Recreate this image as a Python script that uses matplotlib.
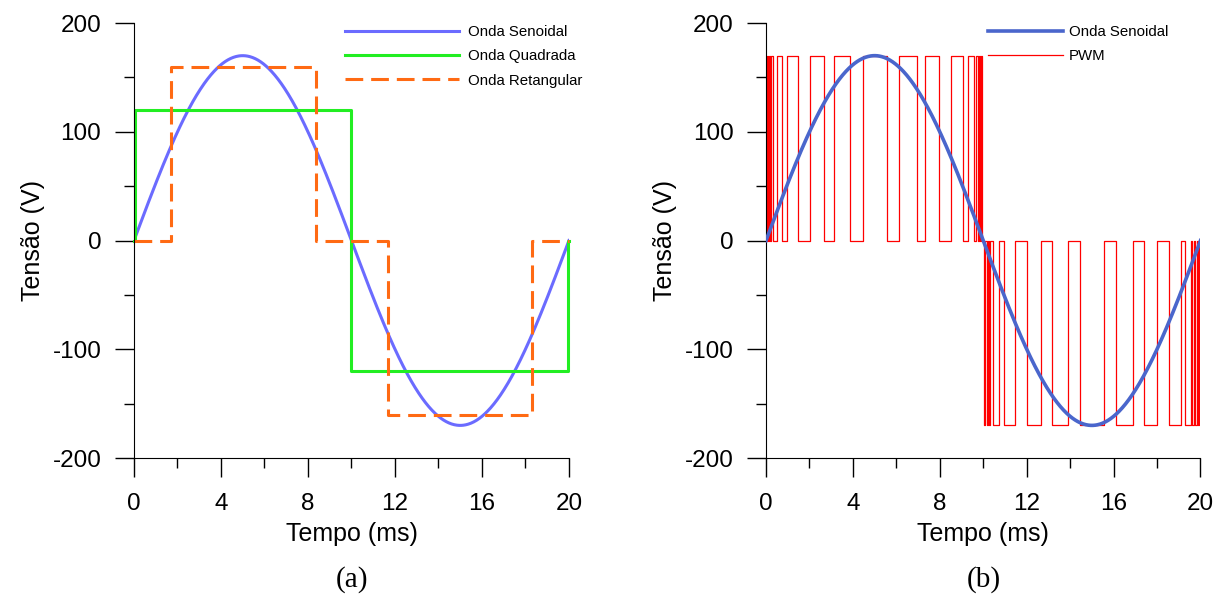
"""
Formas de onda: senoidal, quadrada, retangular e PWM (meio ciclo positivo
e meio ciclo negativo), periodo de 20 ms.
"""

import numpy as np
import matplotlib.pyplot as plt
from matplotlib.ticker import MultipleLocator

plt.rcParams["font.family"] = ["Liberation Sans", "DejaVu Sans"]
plt.rcParams["axes.unicode_minus"] = False

# --- dados -------------------------------------------------------------------
periodo_ms = 20.0
vpico_seno = 170.0

# onda quadrada: instantes de transicao e niveis
quad_t = [0.0, 0.05, 0.05, 10.0, 10.0, 19.95, 19.95, 20.0]
quad_v = [0, 0, 120, 120, -120, -120, 0, 0]

# onda retangular (tracejada)
ret_t = [0.0, 1.7, 1.7, 8.35, 8.35, 11.7, 11.7, 18.3, 18.3, 20.0]
ret_v = [0, 0, 160, 160, 0, 0, -160, -160, 0, 0]

# PWM: intervalos em que a saida esta ligada (ms)
pwm_nivel = 170.0
pwm_pos_liga = [0.04, 0.13, 0.22, 0.49, 0.98, 2.03, 3.15, 4.45, 6.14, 7.32,
                8.52, 9.29, 9.66, 9.80, 9.90]
pwm_pos_desl = [0.08, 0.18, 0.33, 0.72, 1.49, 2.65, 3.88, 5.56, 6.94, 7.98,
                9.06, 9.59, 9.75, 9.86, 9.95]
pwm_neg_liga = [10.05, 10.15, 10.25, 10.47, 10.97, 12.03, 13.15, 14.46, 16.12,
                17.40, 18.53, 19.29, 19.62, 19.76, 19.88]
pwm_neg_desl = [10.10, 10.20, 10.31, 10.73, 11.48, 12.65, 13.92, 15.57, 16.90,
                18.02, 19.08, 19.57, 19.70, 19.83, 19.94]

# --- curvas ------------------------------------------------------------------
t = np.linspace(0, periodo_ms, 801)
seno = vpico_seno * np.sin(2 * np.pi * t / periodo_ms)

pwm_t = [0.0]
pwm_v = [0.0]
for liga, desl, nivel in ([pwm_pos_liga, pwm_pos_desl, pwm_nivel],
                          [pwm_neg_liga, pwm_neg_desl, -pwm_nivel]):
    for a, b in zip(liga, desl):
        pwm_t += [a, a, b, b]
        pwm_v += [0, nivel, nivel, 0]
pwm_t.append(periodo_ms)
pwm_v.append(0.0)


def estilo(ax):
    ax.set_xlim(0, 20)
    ax.set_ylim(-200, 200)
    for lado in ("top", "right"):
        ax.spines[lado].set_visible(False)
    ax.xaxis.set_major_locator(MultipleLocator(4))
    ax.xaxis.set_minor_locator(MultipleLocator(2))
    ax.yaxis.set_major_locator(MultipleLocator(100))
    ax.yaxis.set_minor_locator(MultipleLocator(50))
    ax.tick_params(which="major", direction="out", length=14, width=1,
                   labelsize=17.5)
    ax.tick_params(axis="y", which="major", pad=9.5)
    ax.tick_params(axis="x", which="major", pad=11)
    ax.tick_params(which="minor", direction="out", length=7, width=1)
    ax.set_xlabel("Tempo (ms)", fontsize=18)
    ax.set_ylabel("Tensão (V)", fontsize=18)
    ax.xaxis.set_label_coords(0.5, -0.148)
    ax.yaxis.set_label_coords(-0.205, 0.5)


fig = plt.figure(figsize=(12.27, 5.97), dpi=100)
ax1 = fig.add_axes([0.1092, 0.2328, 0.3545, 0.7286])
ax2 = fig.add_axes([0.6243, 0.2328, 0.3541, 0.7286])

# --- (a) ---------------------------------------------------------------------
ax1.plot(t, seno, color="#6b6bff", lw=2.2, label="Onda Senoidal")
ax1.plot(quad_t, quad_v, color="#22ee22", lw=2.2, label="Onda Quadrada",
         clip_on=False)
ax1.plot(ret_t, ret_v, color="#ff6a13", lw=2.2, dashes=(5.8, 2.6),
         label="Onda Retangular", clip_on=False)
estilo(ax1)
ax1.legend(loc="upper left", bbox_to_anchor=(0.485, 0.995), frameon=False,
           borderaxespad=0, borderpad=0, handlelength=7.6, handletextpad=0.6,
           labelspacing=0.68, fontsize=10.8)

# --- (b) ---------------------------------------------------------------------
ax2.plot(pwm_t, pwm_v, color="#ff0000", lw=0.9, label="PWM", zorder=2)
ax2.plot(t, seno, color="#4a66cc", lw=2.6, label="Onda Senoidal", zorder=3)
estilo(ax2)
h, l = ax2.get_legend_handles_labels()
ax2.legend(h[::-1], l[::-1], loc="upper left", bbox_to_anchor=(0.510, 0.995),
           frameon=False, borderaxespad=0, borderpad=0, handlelength=5.0,
           handletextpad=0.4, labelspacing=0.68, fontsize=10.8)

fig.text(0.287, 0.03, "(a)", family="Liberation Serif", fontsize=21,
         ha="center", va="center")
fig.text(0.802, 0.03, "(b)", family="Liberation Serif", fontsize=21,
         ha="center", va="center")

fig.savefig("out.png", dpi=100)
